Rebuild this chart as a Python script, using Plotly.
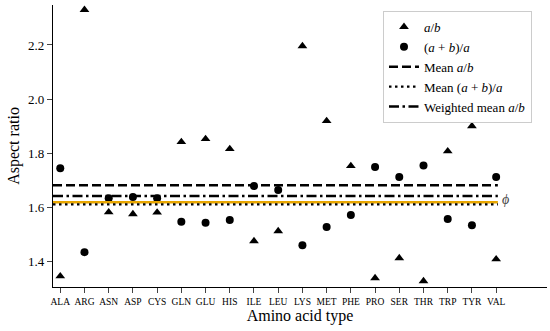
import plotly.graph_objects as go

residues = ["ALA", "ARG", "ASN", "ASP", "CYS", "GLN", "GLU", "HIS", "ILE", "LEU",
            "LYS", "MET", "PHE", "PRO", "SER", "THR", "TRP", "TYR", "VAL"]
a_over_b = [1.344, 2.330, 1.581, 1.574, 1.580, 1.841, 1.852, 1.815, 1.474, 1.511,
            2.196, 1.919, 1.752, 1.337, 1.411, 1.326, 1.807, 1.900, 1.407]
apb_over_a = [1.744, 1.433, 1.633, 1.637, 1.633, 1.546, 1.542, 1.552, 1.678, 1.663,
              1.459, 1.526, 1.571, 1.748, 1.711, 1.754, 1.556, 1.533, 1.711]
mean_ab = 1.681
mean_apb = 1.610
weighted_mean_ab = 1.641
phi = 1.618

FONT = "Liberation Serif"
idx = list(range(len(residues)))
x_line = [-0.3, len(residues) - 1 + 0.07]

fig = go.Figure()
fig.add_trace(go.Scatter(x=idx, y=a_over_b, mode="markers", name="<i>a</i>/<i>b</i>",
                         marker=dict(symbol="triangle-up", size=8.5, color="black")))
fig.add_trace(go.Scatter(x=idx, y=apb_over_a, mode="markers", name="(<i>a</i> + <i>b</i>)/<i>a</i>",
                         marker=dict(symbol="circle", size=8, color="black")))
fig.add_trace(go.Scatter(x=x_line, y=[phi, phi], mode="lines", showlegend=False,
                         line=dict(color="#E8A600", width=2.5)))
fig.add_trace(go.Scatter(x=x_line, y=[mean_ab, mean_ab], mode="lines", name="Mean <i>a</i>/<i>b</i>",
                         line=dict(color="black", width=2.5, dash="9px,4px")))
fig.add_trace(go.Scatter(x=x_line, y=[mean_apb, mean_apb], mode="lines",
                         name="Mean (<i>a</i> + <i>b</i>)/<i>a</i>",
                         line=dict(color="black", width=2.2, dash="2.5px,3.5px")))
fig.add_trace(go.Scatter(x=x_line, y=[weighted_mean_ab, weighted_mean_ab], mode="lines",
                         name="Weighted mean <i>a</i>/<i>b</i>",
                         line=dict(color="black", width=2.5, dash="10px,3.5px,2.5px,3.5px")))

fig.add_annotation(x=x_line[1], y=phi, text="<i>ϕ</i>", showarrow=False, xanchor="left",
                   xshift=2, yshift=3, font=dict(family=FONT, size=14, color="#444444"))

fig.update_layout(
    width=550, height=331,
    margin=dict(l=53, r=3, t=5, b=44, autoexpand=False),
    plot_bgcolor="white", paper_bgcolor="white",
    font=dict(family=FONT, color="black"),
    showlegend=True,
    legend=dict(x=0.668, y=0.979, xanchor="left", yanchor="top",
                bordercolor="#cccccc", borderwidth=1, bgcolor="white",
                font=dict(family=FONT, size=13), tracegroupgap=0, itemwidth=30),
    xaxis=dict(range=[-0.3, 20.1], tickmode="array", tickvals=idx, ticktext=residues,
               showline=True, linecolor="black", linewidth=1.2, mirror=False, automargin=False,
               ticks="outside", ticklen=5, tickwidth=1.2, showgrid=False, zeroline=False,
               tickfont=dict(family=FONT, size=9.5),
               title=dict(text="Amino acid type", font=dict(family=FONT, size=16), standoff=4)),
    yaxis=dict(range=[1.304, 2.348], tickvals=[1.4, 1.6, 1.8, 2.0, 2.2], tickformat=".1f",
               showline=True, linecolor="black", linewidth=1.2, mirror=False, automargin=False,
               ticks="outside", ticklen=5, tickwidth=1.2, showgrid=False, zeroline=False,
               tickfont=dict(family=FONT, size=13),
               title=dict(text="Aspect ratio", font=dict(family=FONT, size=16), standoff=4)),
)

fig.write_html("out.html", config={"displayModeBar": False},
               post_script="document.body.style.margin='0px';")
